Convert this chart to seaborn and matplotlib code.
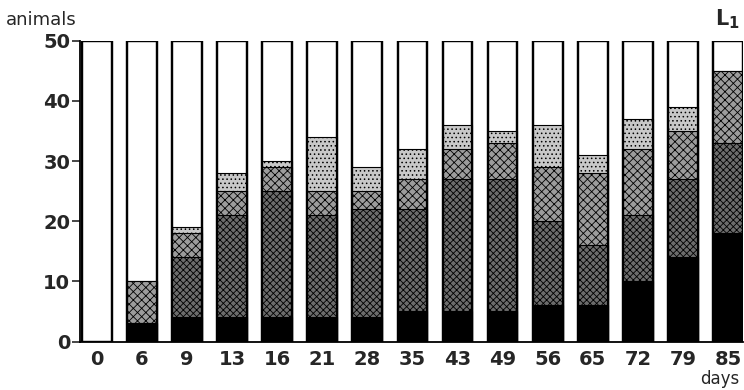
import matplotlib
matplotlib.use("Agg")
import matplotlib.pyplot as plt
import seaborn as sns
import pandas as pd
import numpy as np

days = ["0", "6", "9", "13", "16", "21", "28", "35", "43", "49", "56", "65", "72", "79", "85"]
black = [0, 3, 4, 4, 4, 4, 4, 5, 5, 5, 6, 6, 10, 14, 18]
dark = [0, 0, 10, 17, 21, 17, 18, 17, 22, 22, 14, 10, 11, 13, 15]
medium = [0, 7, 4, 4, 4, 4, 3, 5, 5, 6, 9, 12, 11, 8, 12]
light = [0, 0, 1, 3, 1, 9, 4, 5, 4, 2, 7, 3, 5, 4, 0]
total = [50] * 15
yticks = [0, 10, 20, 30, 40, 50]

sns.set_style("white")
plt.rcParams['font.family'] = ['DejaVu Sans']
plt.rcParams['hatch.linewidth'] = 0.6

fig = plt.figure(figsize=(7.44, 3.9), dpi=100)
ax = fig.add_axes([80/744, 48.5/390, 663/744, 300.8/390])

cum_black = np.array(black)
cum_dark = cum_black + np.array(dark)
cum_med = cum_dark + np.array(medium)
cum_light = cum_med + np.array(light)

layers = [
    (total, "white", 1.6, None),
    (cum_light, "#c8c8c8", 0.8, "...."),
    (cum_med, "#9c9c9c", 0.8, "xxxx"),
    (cum_dark, "#6c6c6c", 0.8, "xxxxx"),
    (cum_black, "black", 0.8, None),
]
for vals, col, lw, hatch in layers:
    df = pd.DataFrame({"day": days, "v": vals})
    n0 = len(ax.patches)
    sns.barplot(data=df, x="day", y="v", order=days, color=col, saturation=1,
                width=0.66, edgecolor="black", linewidth=lw, ax=ax, errorbar=None)
    if hatch:
        for p in ax.patches[n0:]:
            p.set_hatch(hatch)

# redraw outlines of full bars on top
df = pd.DataFrame({"day": days, "v": total})
sns.barplot(data=df, x="day", y="v", order=days, fill=False, color="black",
            width=0.66, edgecolor="black", linewidth=1.6, ax=ax, errorbar=None)

ax.set_xlim(-0.37, 14.33)
ax.set_ylim(0, 50)
ax.set_yticks(yticks)
ax.set_xlabel("")
ax.set_ylabel("")
for s in ["top", "right"]:
    ax.spines[s].set_visible(False)
for s in ["left", "bottom"]:
    ax.spines[s].set_linewidth(1.3)
    ax.spines[s].set_color("black")
ax.tick_params(axis="y", direction="out", length=6, width=1.2, pad=1,
               labelsize=14, left=True)
ax.tick_params(axis="x", length=0, pad=6, labelsize=14)
for lab in ax.get_xticklabels() + ax.get_yticklabels():
    lab.set_fontweight("bold")

fig.text(6/744, 1 - 20/390, "animals", fontsize=13, ha="left", va="center")
fig.text(740/744, 1 - 19/390, r"$\mathbf{L_1}$", fontsize=15, ha="right", va="center")
fig.text(739/744, 1 - 379/390, "days", fontsize=12, ha="right", va="center")

fig.savefig("out.png", dpi=100)
